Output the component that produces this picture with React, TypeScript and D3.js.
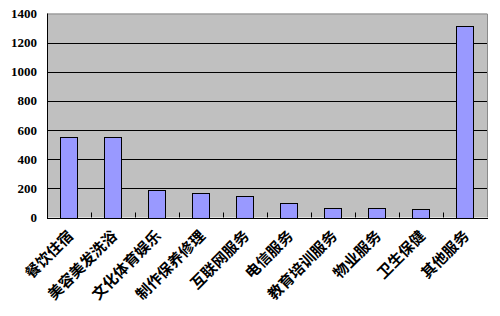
import React from "react";
import * as d3 from "d3";

const categories = [
  "餐饮住宿",
  "美容美发洗浴",
  "文化体育娱乐",
  "制作保养修理",
  "互联网服务",
  "电信服务",
  "教育培训服务",
  "物业服务",
  "卫生保健",
  "其他服务",
];
const values = [553, 553, 186, 168, 145, 97, 67, 67, 58, 1315];
const yTicks = [0, 200, 400, 600, 800, 1000, 1200, 1400];

const W = 500;
const H = 316;
const plot = { left: 47, right: 487, top: 13.5, bottom: 217.5 };

export default function App() {
  const x = d3
    .scaleBand<string>()
    .domain(categories)
    .range([plot.left, plot.right])
    .paddingInner(0.61)
    .paddingOuter(0.305);
  const band = d3.scaleBand<string>().domain(categories).range([plot.left, plot.right]);
  const y = d3.scaleLinear().domain([0, 1400]).range([plot.bottom, plot.top]);

  return (
    <svg
      width={W}
      height={H}
      style={{ position: "absolute", left: 0, top: 0, background: "#fff" }}
    >
      <rect
        x={plot.left}
        y={plot.top}
        width={plot.right - plot.left}
        height={plot.bottom - plot.top}
        fill="#c0c0c0"
      />
      {yTicks.slice(1, -1).map((t) => (
        <line
          key={t}
          x1={plot.left}
          x2={plot.right}
          y1={Math.round(y(t)) + 0.5}
          y2={Math.round(y(t)) + 0.5}
          stroke="#000"
          strokeWidth={1}
        />
      ))}
      {/* plot area frame: top and right */}
      <path
        d={`M${plot.left},${plot.top + 0.5}H${plot.right + 0.5}V${plot.bottom}`}
        fill="none"
        stroke="#8a8a8a"
        strokeWidth={1}
      />
      {categories.map((c, i) => (
        <rect
          key={c}
          x={Math.round(x(c)!) + 0.5}
          y={Math.round(y(values[i])) + 0.5}
          width={Math.round(x.bandwidth())}
          height={Math.round(plot.bottom) - Math.round(y(values[i]))}
          fill="#9999ff"
          stroke="#000"
          strokeWidth={1}
        />
      ))}
      {/* category tick marks between bands */}
      {categories.slice(1).map((c) => (
        <line
          key={c}
          x1={Math.round(band(c)!) + 0.5}
          x2={Math.round(band(c)!) + 0.5}
          y1={plot.bottom - 5}
          y2={plot.bottom}
          stroke="#000"
        />
      ))}
      {/* axes */}
      <line
        x1={plot.left + 0.5}
        x2={plot.left + 0.5}
        y1={plot.top}
        y2={plot.bottom + 0.5}
        stroke="#000"
      />
      <line
        x1={plot.left}
        x2={plot.right + 1}
        y1={Math.round(plot.bottom) + 0.5}
        y2={Math.round(plot.bottom) + 0.5}
        stroke="#000"
      />
      {yTicks.map((t) => (
        <text
          key={t}
          x={37}
          y={y(t)}
          dy="0.35em"
          textAnchor="end"
          fontFamily="'Liberation Serif', serif"
          fontWeight="bold"
          fontSize={13}
          fill="#000"
        >
          {t}
        </text>
      ))}
      {categories.map((c) => {
        const cx = band(c)! + band.bandwidth() / 2 + 5;
        const cy = 237;
        return (
          <text
            key={c}
            transform={`translate(${cx},${cy}) rotate(-45)`}
            textAnchor="end"
            fontFamily="'Noto Sans CJK SC', sans-serif"
            fontWeight="bold"
            fontSize={15}
            fill="#000"
          >
            {c}
          </text>
        );
      })}
    </svg>
  );
}
